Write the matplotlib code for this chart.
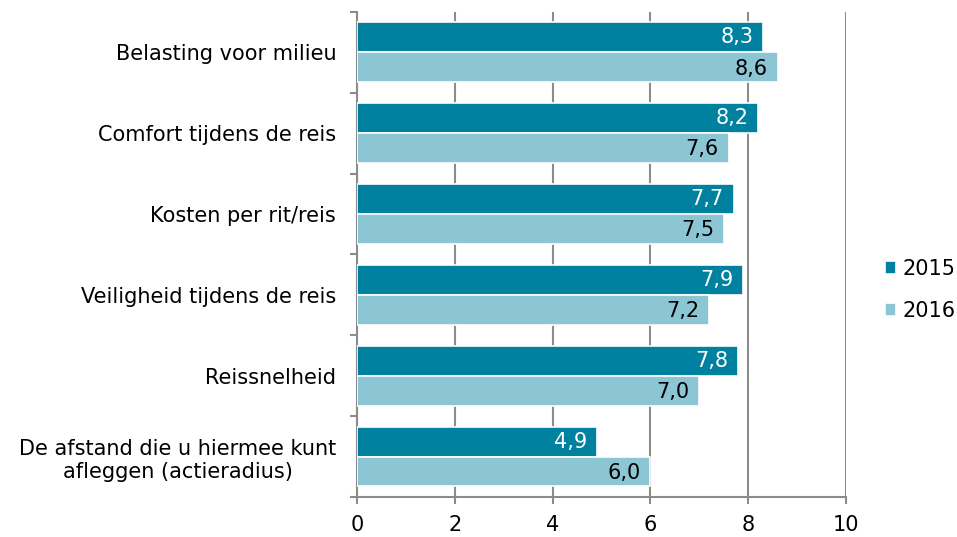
import matplotlib
matplotlib.use("Agg")
import matplotlib.pyplot as plt
import numpy as np

categories = ["Belasting voor milieu", "Comfort tijdens de reis", "Kosten per rit/reis",
              "Veiligheid tijdens de reis", "Reissnelheid",
              "De afstand die u hiermee kunt\nafleggen (actieradius)"]
values_2015 = [8.3, 8.2, 7.7, 7.9, 7.8, 4.9]
values_2016 = [8.6, 7.6, 7.5, 7.2, 7.0, 6.0]
series_names = ["2015", "2016"]
labels_2015 = ["8,3", "8,2", "7,7", "7,9", "7,8", "4,9"]
labels_2016 = ["8,6", "7,6", "7,5", "7,2", "7,0", "6,0"]

c2015 = "#00819F"
c2016 = "#8CC6D4"
grid_c = "#8C8C8C"
fs = 15

fig = plt.figure(figsize=(9.57, 5.37), dpi=100)
ax = fig.add_axes([0.373, 0.0745, 0.511, 0.9035])

y = np.arange(len(categories))
h = 0.37
b1 = ax.barh(y - h / 2, values_2015, height=h, color=c2015, edgecolor="white", linewidth=1.2, label=series_names[0], zorder=3)
b2 = ax.barh(y + h / 2, values_2016, height=h, color=c2016, edgecolor="white", linewidth=1.2, label=series_names[1], zorder=3)

for rect, lab in zip(b1, labels_2015):
    ax.annotate(lab, (rect.get_width(), rect.get_y() + rect.get_height() / 2),
                xytext=(-7, 0), textcoords="offset points", ha="right", va="center",
                color="white", fontsize=fs, zorder=4)
for rect, lab in zip(b2, labels_2016):
    ax.annotate(lab, (rect.get_width(), rect.get_y() + rect.get_height() / 2),
                xytext=(-7, -1), textcoords="offset points", ha="right", va="center",
                color="black", fontsize=fs, zorder=4)

ax.set_xlim(0, 10)
ax.set_ylim(len(categories) - 0.5, -0.5)
ax.set_xticks([0, 2, 4, 6, 8, 10])
ax.set_xticklabels(["0", "2", "4", "6", "8", "10"], fontsize=fs)
ax.tick_params(axis="x", colors=grid_c, labelcolor="black", length=5, width=1.5, pad=8)

ax.set_yticks(np.arange(len(categories) + 1) - 0.5)
ax.set_yticklabels([])
ax.tick_params(axis="y", which="major", colors=grid_c, length=5, width=1.5)
ax.set_yticks(y, minor=True)
ax.set_yticklabels(categories, minor=True, fontsize=fs, multialignment="center")
ax.tick_params(axis="y", which="minor", length=0, pad=15)

ax.grid(axis="x", color=grid_c, linewidth=1.5, zorder=0)
for s in ["top", "right"]:
    ax.spines[s].set_visible(False)
for s in ["left", "bottom"]:
    ax.spines[s].set_color(grid_c)
    ax.spines[s].set_linewidth(1.5)

leg = fig.legend(handles=[b1, b2], labels=series_names, loc="center left",
                 bbox_to_anchor=(0.905, 0.46), frameon=False, fontsize=fs,
                 handlelength=0.55, handleheight=0.55, handletextpad=0.3, labelspacing=1.05)

fig.savefig("out.png", dpi=100)
